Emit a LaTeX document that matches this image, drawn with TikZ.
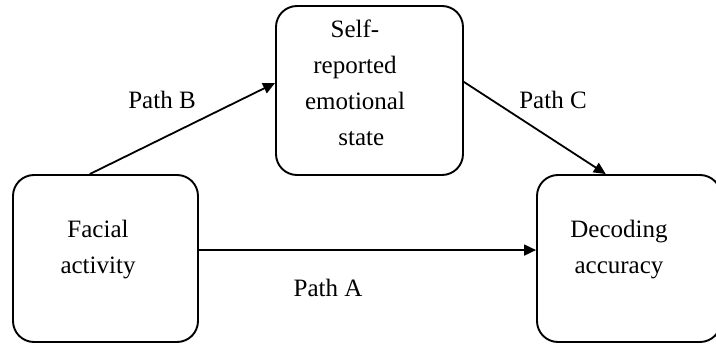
\documentclass[tikz,border=0pt]{standalone}
\usepackage{fontspec}
\setmainfont{Liberation Serif}
\usetikzlibrary{arrows.meta,calc}
\tikzset{
  box/.style={draw, line width=1.9pt, rounded corners=21pt, inner sep=0pt},
  txt/.style={font=\fontsize{25}{36}\selectfont, align=center, inner sep=0pt},
  conn/.style={line width=1.8pt, -{Triangle[length=12pt,width=11pt]}},
}
\begin{document}
\begin{tikzpicture}[x=1pt,y=-1pt]
\useasboundingbox (0,0) rectangle (716,345);
\node[box, minimum width=185pt, minimum height=167pt] (fa) at (105.5,258.5) {};
\node[box, minimum width=187pt, minimum height=169pt] (se) at (369.5,90.5) {};
\node[box, minimum width=184pt, minimum height=167pt] (de) at (629,258.5) {};
\node[txt] (fat) at (98,250) {Facial\\activity};
\node[txt] (set) at (355,82.5) {Self-\\reported\\emotional\\\ \ state};
\node[txt] (det) at (619,250) {Decoding\\accuracy};
\coordinate (pbs) at ($(fa.north west)!0.416!(fa.north east)$);
\coordinate (pbe) at ($(se.north west)!0.456!(se.south west)$);
\coordinate (pcs) at ($(se.north east)!0.45!(se.south east)$);
\coordinate (pce) at ($(de.north west)!0.375!(de.north east)$);
\coordinate (pas) at ($(fa.north east)!0.45!(fa.south east)$);
\draw[conn] (pbs) -- (pbe);
\draw[conn] (pcs) -- (pce);
\draw[conn] (pas) -- (pas -| de.west);
\node[txt] (lb) at (162,100) {Path B};
\node[txt] (lc) at (553,100) {Path C};
\node[txt] (la) at (328,288) {Path A};
\end{tikzpicture}
\end{document}
